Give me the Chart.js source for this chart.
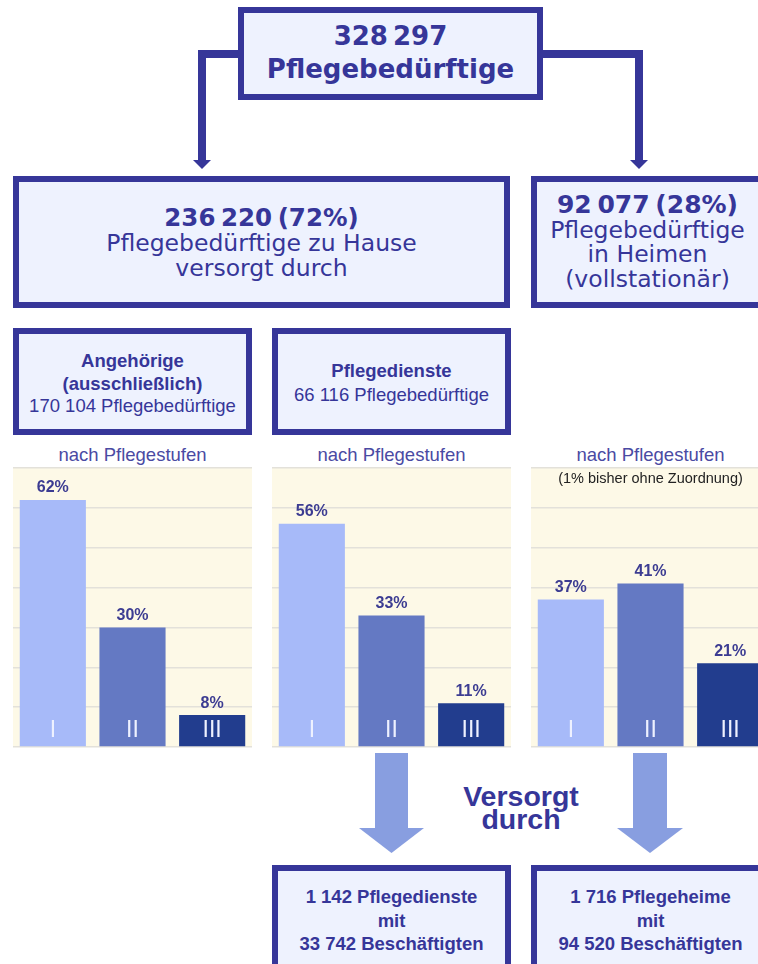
<!DOCTYPE html>
<html>
<head>
<meta charset="utf-8">
<script src="https://cdn.jsdelivr.net/npm/chart.js@4"></script>
<style>
  body { margin: 0; background: #fff; }
  #page { position: relative; width: 758px; height: 964px; overflow: hidden; background: #fff; }
  .box { position: absolute; box-sizing: border-box; border: 6px solid #363699; background: #eef2fe;
         color: #363699; text-align: center; white-space: nowrap; }
  .verd { font-family: "DejaVu Sans", Verdana, sans-serif; }
  .ari { font-family: "Liberation Sans", Arial, sans-serif; }
  .txt { position: absolute; text-align: center; white-space: nowrap; }
  canvas { position: absolute; }
  svg { position: absolute; left: 0; top: 0; }
</style>
</head>
<body>
<div id="page">

  <svg width="758" height="964">
    <!-- Verbinder oben -->
    <polyline points="238,54 202,54 202,161" fill="none" stroke="#363699" stroke-width="8"/>
    <polygon points="193,160 211,160 202,169" fill="#363699"/>
    <polyline points="543,54 639,54 639,161" fill="none" stroke="#363699" stroke-width="8"/>
    <polygon points="630,160 648,160 639,169" fill="#363699"/>
    <!-- Pfeile unten -->
    <rect x="375" y="753" width="33" height="76" fill="#889ee0"/>
    <polygon points="359,828 424,828 391.5,853" fill="#889ee0"/>
    <rect x="633" y="753" width="34" height="76" fill="#889ee0"/>
    <polygon points="617,828 683,828 650,853" fill="#889ee0"/>
  </svg>

  <div class="box verd" style="left:238px;top:7px;width:305px;height:93px;font-weight:bold;font-size:26px;line-height:33px;padding-top:7px;">
    <span style="word-spacing:-4px;">328 297</span><br>Pflegebedürftige
  </div>

  <div class="box verd" style="left:13px;top:176px;width:497px;height:132px;font-size:23.5px;line-height:25px;padding-top:23px;">
    <span style="font-weight:bold;font-size:24.5px;word-spacing:-3px;">236 220 (72%)</span><br>Pflegebedürftige zu Hause<br>versorgt durch
  </div>

  <div class="box verd" style="left:531px;top:176px;width:233px;height:132px;font-size:23.5px;line-height:24.5px;padding-top:11px;">
    <span style="font-weight:bold;font-size:25px;word-spacing:-3px;">92 077 (28%)</span><br>Pflegebedürftige<br>in Heimen<br>(vollstationär)
  </div>

  <div class="box ari" style="left:13px;top:328px;width:239px;height:107px;font-size:18.5px;line-height:22.5px;padding-top:16px;">
    <b>Angehörige<br>(ausschließlich)</b><br>170 104 Pflegebedürftige
  </div>

  <div class="box ari" style="left:272px;top:328px;width:239px;height:107px;font-size:18.5px;line-height:24px;padding-top:25px;">
    <b>Pflegedienste</b><br>66 116 Pflegebedürftige
  </div>

  <div class="txt ari" style="left:13px;width:239px;top:444px;font-size:18.5px;color:#4a4aa3;">nach Pflegestufen</div>
  <div class="txt ari" style="left:272px;width:239px;top:444px;font-size:18.5px;color:#4a4aa3;">nach Pflegestufen</div>
  <div class="txt ari" style="left:531px;width:239px;top:444px;font-size:18.5px;color:#4a4aa3;">nach Pflegestufen</div>

  <canvas id="chart1" width="239" height="281" style="left:13px;top:467px;"></canvas>
  <canvas id="chart2" width="239" height="281" style="left:272px;top:467px;"></canvas>
  <canvas id="chart3" width="239" height="281" style="left:531px;top:467px;"></canvas>

  <div class="txt ari" style="left:531px;width:239px;top:470px;font-size:14.5px;color:#222;">(1% bisher ohne Zuordnung)</div>

  <div class="txt ari" style="left:421px;width:200px;top:785px;font-size:28.5px;line-height:23px;font-weight:bold;color:#363699;">Versorgt<br>durch</div>

  <div class="box ari" style="left:272px;top:865px;width:239px;height:130px;font-size:18.5px;line-height:23.5px;font-weight:bold;padding-top:14px;">
    1 142 Pflegedienste<br>mit<br>33 742 Beschäftigten
  </div>

  <div class="box ari" style="left:531px;top:865px;width:239px;height:130px;font-size:18.5px;line-height:23.5px;font-weight:bold;padding-top:14px;">
    1 716 Pflegeheime<br>mit<br>94 520 Beschäftigten
  </div>
</div>

<script>
// Daten
let stufen = ['I', 'II', 'III'];
let angehoerige = [62, 30, 8];
let pflegedienste = [56, 33, 11];
let heime = [37, 41, 21];
let yMax = 70;
let yStep = 10;

let barColors = ['#a7baf9', '#6479c3', '#223d8e'];

// Hintergrund + Beschriftungen
let stufenPlugin = {
    id: 'stufen',
    beforeDraw: function(chart){
        let a = chart.chartArea;
        let ctx = chart.ctx;
        ctx.save();
        ctx.fillStyle = '#fdf9e7';
        ctx.fillRect(a.left, a.top, a.right - a.left, a.bottom - a.top);
        ctx.restore();
    },
    afterDatasetsDraw: function(chart){
        let ctx = chart.ctx;
        let meta = chart.getDatasetMeta(0);
        let values = chart.data.datasets[0].data;
        ctx.save();
        ctx.textAlign = 'center';
        ctx.textBaseline = 'middle';
        meta.data.forEach(function(bar, i){
            ctx.fillStyle = '#3c3c92';
            ctx.font = 'bold 16px "Liberation Sans", Arial, sans-serif';
            ctx.fillText(values[i] + '%', bar.x, bar.y - 12);
            ctx.fillStyle = '#eef1ff';
            ctx.font = '23px "Liberation Sans", Arial, sans-serif';
            ctx.fillText(chart.data.labels[i], bar.x, bar.base - 16);
        });
        ctx.restore();
    }
};

function makeChart(id, values){
    return new Chart(document.getElementById(id), {
        type: 'bar',
        data: {
            labels: stufen,
            datasets: [{
                data: values,
                backgroundColor: barColors,
                borderWidth: 0,
                barPercentage: 0.83,
                categoryPercentage: 1
            }]
        },
        options: {
            responsive: false,
            animation: false,
            layout: { padding: { top: 1, bottom: 1 } },
            plugins: { legend: { display: false }, tooltip: { enabled: false } },
            scales: {
                x: { display: false },
                y: {
                    min: 0,
                    max: yMax,
                    ticks: { display: false, stepSize: yStep },
                    border: { display: false },
                    grid: { drawTicks: false, color: '#e3e1da', lineWidth: 1.5 }
                }
            }
        },
        plugins: [stufenPlugin]
    });
}

// Chart Init
let chart1 = makeChart('chart1', angehoerige);
let chart2 = makeChart('chart2', pflegedienste);
let chart3 = makeChart('chart3', heime);
</script>
</body>
</html>
